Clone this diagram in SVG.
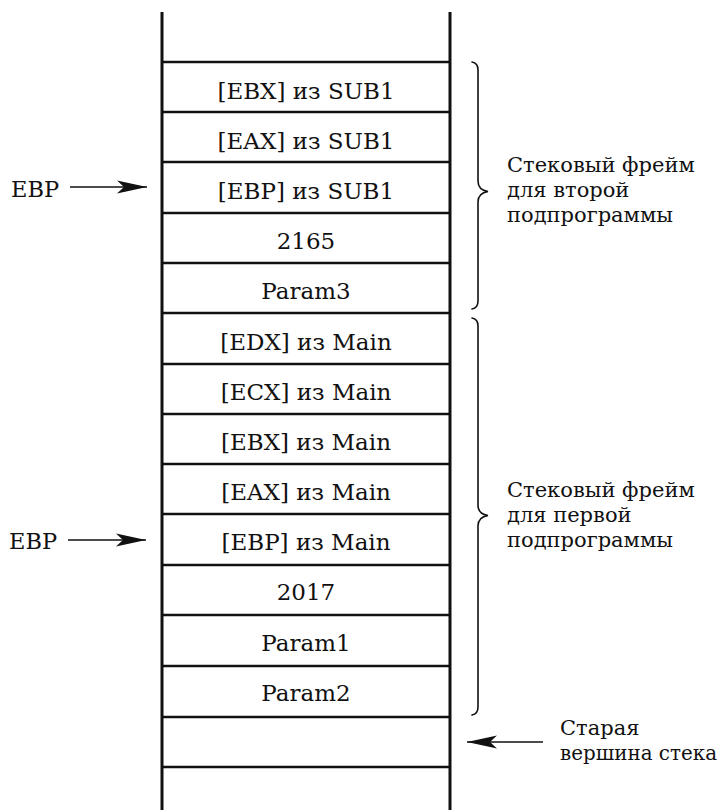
<svg xmlns="http://www.w3.org/2000/svg" width="726" height="810" viewBox="0 0 726 810">
  <style>
    .cell { font-family: "DejaVu Serif", "Liberation Serif", serif; font-size: 23px; fill: #111; text-anchor: middle; }
    .lbl { font-family: "DejaVu Serif", "Liberation Serif", serif; font-size: 21px; fill: #111; }
    .ptr { font-family: "DejaVu Serif", "Liberation Serif", serif; font-size: 22.5px; fill: #111; }
    .wall { stroke: #111; stroke-width: 3; fill: none; }
    .sep { stroke: #111; stroke-width: 2.5; fill: none; }
    .brace { stroke: #111; stroke-width: 1.6; fill: none; stroke-linecap: round; }
    .arrow { stroke: #111; stroke-width: 1.7; fill: none; }
  </style>
  <defs>
    <marker id="head" markerUnits="userSpaceOnUse" markerWidth="32" markerHeight="16" viewBox="0 0 32 16" refX="30" refY="8" orient="auto">
      <path d="M0,1.5 L30,8 L0,14.5 L7,8 z" fill="#111"/>
    </marker>
  </defs>
  <rect width="726" height="810" fill="#fff"/>

  <!-- stack walls -->
  <g id="stack">
    <line class="wall" x1="162" y1="12" x2="162" y2="810"/>
    <line class="wall" x1="450" y1="12" x2="450" y2="810"/>
    <line class="sep" x1="162" y1="767" x2="450" y2="767"/>
  </g>

  <!-- stack cells, top to bottom -->
  <g id="cell-ebx-sub1"><line class="sep" x1="162" y1="62" x2="450" y2="62"/><text class="cell" x="306" y="99">[EBX] из SUB1</text></g>
  <g id="cell-eax-sub1"><line class="sep" x1="162" y1="112" x2="450" y2="112"/><text class="cell" x="306" y="149">[EAX] из SUB1</text></g>
  <g id="cell-ebp-sub1"><line class="sep" x1="162" y1="162" x2="450" y2="162"/><text class="cell" x="306" y="199">[EBP] из SUB1</text></g>
  <g id="cell-2165"><line class="sep" x1="162" y1="213" x2="450" y2="213"/><text class="cell" x="306" y="249">2165</text></g>
  <g id="cell-param3"><line class="sep" x1="162" y1="263" x2="450" y2="263"/><text class="cell" x="306" y="299">Param3</text></g>
  <g id="cell-edx-main"><line class="sep" x1="162" y1="313" x2="450" y2="313"/><text class="cell" x="306" y="350">[EDX] из Main</text></g>
  <g id="cell-ecx-main"><line class="sep" x1="162" y1="364" x2="450" y2="364"/><text class="cell" x="306" y="400">[ECX] из Main</text></g>
  <g id="cell-ebx-main"><line class="sep" x1="162" y1="414" x2="450" y2="414"/><text class="cell" x="306" y="450">[EBX] из Main</text></g>
  <g id="cell-eax-main"><line class="sep" x1="162" y1="464" x2="450" y2="464"/><text class="cell" x="306" y="500">[EAX] из Main</text></g>
  <g id="cell-ebp-main"><line class="sep" x1="162" y1="514" x2="450" y2="514"/><text class="cell" x="306" y="550">[EBP] из Main</text></g>
  <g id="cell-2017"><line class="sep" x1="162" y1="565" x2="450" y2="565"/><text class="cell" x="306" y="600">2017</text></g>
  <g id="cell-param1"><line class="sep" x1="162" y1="615" x2="450" y2="615"/><text class="cell" x="306" y="651">Param1</text></g>
  <g id="cell-param2"><line class="sep" x1="162" y1="666" x2="450" y2="666"/><text class="cell" x="306" y="701">Param2</text></g>
  <g id="cell-empty"><line class="sep" x1="162" y1="717" x2="450" y2="717"/></g>

  <!-- pointer labels -->
  <g id="ebp-top"><text class="ptr" x="11" y="197">EBP</text></g>
  <g id="ebp-bottom"><text class="ptr" x="9" y="549">EBP</text></g>
  <g id="old-top">
    <text class="lbl" x="560" y="735">Старая</text>
    <text class="lbl" x="560" y="760" textLength="157" lengthAdjust="spacingAndGlyphs">вершина стека</text>
  </g>

  <!-- frame braces and captions -->
  <g id="frame-second">
    <path class="brace" d="M472,62 Q478,63 478,70 L478,181 Q478,190 488,191.5 Q478,193 478,202 L478,301 Q478,308 472,309"/>
    <text class="lbl" x="507" y="172">Стековый фрейм</text>
    <text class="lbl" x="507" y="197">для второй</text>
    <text class="lbl" x="507" y="222">подпрограммы</text>
  </g>
  <g id="frame-first">
    <path class="brace" d="M472,318 Q478,319 478,326 L478,505 Q478,514 488,515.5 Q478,517 478,526 L478,707 Q478,714 472,715"/>
    <text class="lbl" x="507" y="497">Стековый фрейм</text>
    <text class="lbl" x="507" y="522">для первой</text>
    <text class="lbl" x="507" y="547">подпрограммы</text>
  </g>

  <!-- connectors -->
  <g id="connectors">
    <line class="arrow" x1="70" y1="187" x2="147" y2="187" marker-end="url(#head)"/>
    <line class="arrow" x1="68" y1="540" x2="146" y2="540" marker-end="url(#head)"/>
    <line class="arrow" x1="543" y1="742" x2="467" y2="742" marker-end="url(#head)"/>
  </g>
</svg>
